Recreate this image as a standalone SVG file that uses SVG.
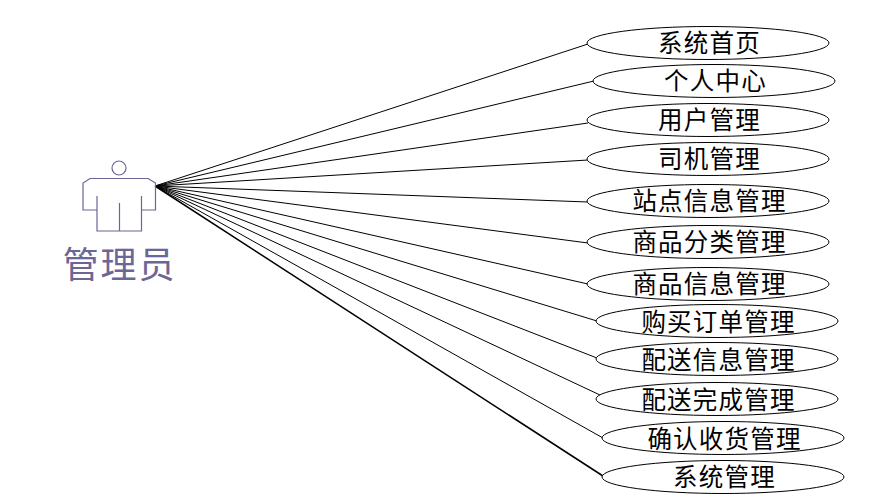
<svg xmlns="http://www.w3.org/2000/svg" width="894" height="502" viewBox="0 0 894 502">
<style>
text{font-family:"Liberation Serif","Noto Sans CJK SC",serif;text-anchor:middle}
.n ellipse{fill:#fff;stroke:#000;stroke-width:1}
.n text{font-size:24.500px;letter-spacing:1.200px;fill:#000}
.c line{stroke:#000;stroke-width:1}
.a *{fill:none;stroke:#6a6696;stroke-width:1.2}
.a text{fill:#6a6696;stroke:none;font-size:36px;letter-spacing:1.800px}
</style>
<rect width="894" height="502" fill="#fff"/>
<g id="connectors" class="c">
<line x1="155" y1="186" x2="588" y2="44"/>
<line x1="155" y1="186" x2="594" y2="81"/>
<line x1="155" y1="186" x2="588" y2="123"/>
<line x1="155" y1="186" x2="588" y2="160"/>
<line x1="155" y1="186" x2="588" y2="202"/>
<line x1="155" y1="186" x2="588" y2="243"/>
<line x1="155" y1="186" x2="588" y2="284"/>
<line x1="155" y1="186" x2="597" y2="321"/>
<line x1="155" y1="186" x2="597" y2="358"/>
<line x1="155" y1="186" x2="600" y2="395"/>
<line x1="155" y1="186" x2="603" y2="438"/>
<line x1="155" y1="186" x2="603" y2="476" style="stroke-width:1.5"/>
</g>
<g id="actor" class="a">
<circle cx="119" cy="168" r="7"/>
<path d="M97 196V231H141.500V196M119.500 203V231M97 210H83V183L90 178.500H148L155.500 183V210H141.500"/>
<text x="119.500" y="278">管理员</text>
</g>
<g id="n1" class="n"><ellipse cx="708" cy="43" rx="121" ry="16.500"/><text x="709.500" y="52">系统首页</text></g>
<g id="n2" class="n"><ellipse cx="714" cy="81" rx="121" ry="16.500"/><text x="715.500" y="90">个人中心</text></g>
<g id="n3" class="n"><ellipse cx="708" cy="120" rx="121" ry="16.500"/><text x="709.500" y="129">用户管理</text></g>
<g id="n4" class="n"><ellipse cx="708" cy="159" rx="121" ry="16.500"/><text x="709.500" y="168">司机管理</text></g>
<g id="n5" class="n"><ellipse cx="708" cy="201" rx="121" ry="16.500"/><text x="709.500" y="210">站点信息管理</text></g>
<g id="n6" class="n"><ellipse cx="708" cy="242" rx="121" ry="16.500"/><text x="709.500" y="251">商品分类管理</text></g>
<g id="n7" class="n"><ellipse cx="708" cy="284" rx="121" ry="16.500"/><text x="709.500" y="293">商品信息管理</text></g>
<g id="n8" class="n"><ellipse cx="717" cy="321" rx="121" ry="16.500"/><text x="718.500" y="331">购买订单管理</text></g>
<g id="n9" class="n"><ellipse cx="717" cy="359" rx="121" ry="16.500"/><text x="718.500" y="369">配送信息管理</text></g>
<g id="n10" class="n"><ellipse cx="717" cy="399" rx="121" ry="16.500"/><text x="718.500" y="409">配送完成管理</text></g>
<g id="n11" class="n"><ellipse cx="723" cy="438" rx="121" ry="16.500"/><text x="724.500" y="448">确认收货管理</text></g>
<g id="n12" class="n"><ellipse cx="723" cy="477" rx="121" ry="16.500"/><text x="724.500" y="486">系统管理</text></g>
</svg>
